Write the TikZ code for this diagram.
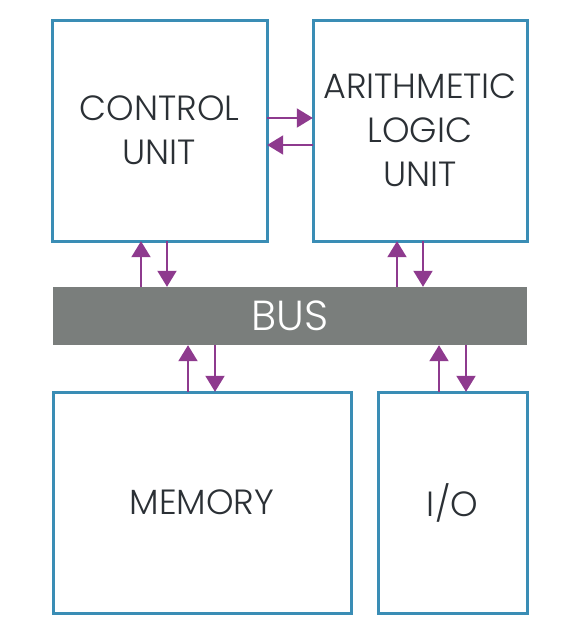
\documentclass[tikz,border=0pt]{standalone}
\usepackage{fontspec}
\setmainfont{Poppins Light}
\usetikzlibrary{arrows.meta}
\definecolor{boxblue}{HTML}{3A8DB5}
\definecolor{arrpurple}{HTML}{8E3A8E}
\definecolor{busgray}{HTML}{7A7E7C}
\definecolor{txt}{HTML}{2B3035}
\begin{document}
\begin{tikzpicture}[x=1pt,y=-1pt,
  unitbox/.style={draw=boxblue,line width=3pt,fill=white},
  lbl/.style={text=txt,font=\fontsize{35}{44}\selectfont,align=center},
  arr/.style={draw=arrpurple,line width=2pt,-{Triangle[width=19pt 0,length=16pt 0]},fill=arrpurple}]
\useasboundingbox (0,0) rectangle (567,638);
% boxes
\draw[unitbox] (52,20) rectangle (267,241);
\draw[unitbox] (313,20) rectangle (527,241);
\draw[unitbox] (53,392) rectangle (351,613);
\draw[unitbox] (378,392) rectangle (527,613);
\node[inner sep=0,minimum width=215pt,minimum height=221pt] (cu) at (159.5,130.5) {};
\node[inner sep=0,minimum width=214pt,minimum height=221pt] (alu) at (420,130.5) {};
\node[inner sep=0,minimum width=298pt,minimum height=221pt] (mem) at (202,502.5) {};
\node[inner sep=0,minimum width=149pt,minimum height=221pt] (io) at (452.5,502.5) {};
\node[fill=busgray,inner sep=0,minimum width=474pt,minimum height=58pt] (bus) at (290,316) {};
% labels
\node[lbl] (cut) at (cu) {CONTROL\\UNIT};
\node[lbl] (alut) at (alu) {ARITHMETIC\\LOGIC\\UNIT};
\node[lbl] (memt) at (mem) {MEMORY};
\node[lbl] (iot) at (io) {I/O};
\node[text=white,font=\fontsize{42}{50}\selectfont] (bust) at (bus) {BUS};
% arrow positions
\coordinate (x1) at (141,0);
\coordinate (x2) at (167,0);
\coordinate (x3) at (397,0);
\coordinate (x4) at (423,0);
\coordinate (x5) at (188,0);
\coordinate (x6) at (215,0);
\coordinate (x7) at (439,0);
\coordinate (x8) at (466,0);
\coordinate (y1) at (0,118);
\coordinate (y2) at (0,145);
% arrows
\draw[arr] (cu.east |- y1) -- (alu.west |- y1);
\draw[arr] (alu.west |- y2) -- (cu.east |- y2);
\draw[arr] (bus.north -| x1) -- (cu.south -| x1);
\draw[arr] (cu.south -| x2) -- (bus.north -| x2);
\draw[arr] (bus.north -| x3) -- (alu.south -| x3);
\draw[arr] (alu.south -| x4) -- (bus.north -| x4);
\draw[arr] (mem.north -| x5) -- (bus.south -| x5);
\draw[arr] (bus.south -| x6) -- (mem.north -| x6);
\draw[arr] (io.north -| x7) -- (bus.south -| x7);
\draw[arr] (bus.south -| x8) -- (io.north -| x8);
\end{tikzpicture}
\end{document}
